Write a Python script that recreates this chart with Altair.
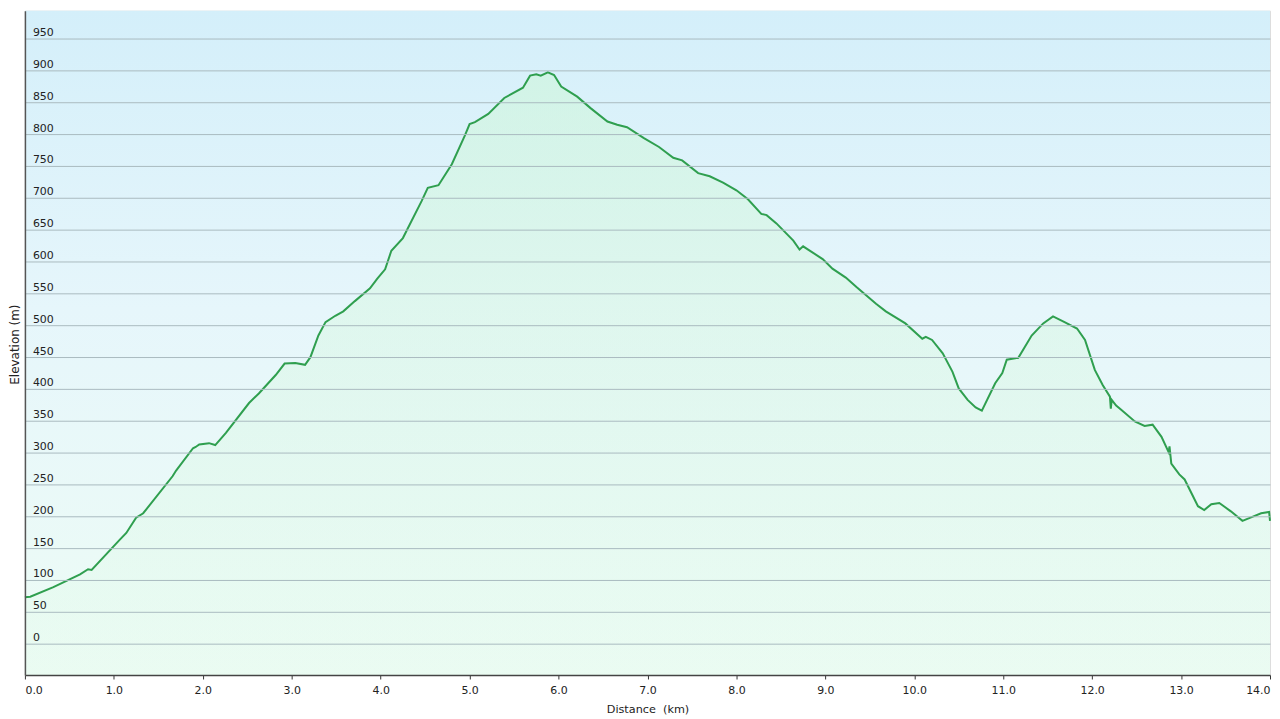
import altair as alt
import pandas as pd

# Elevation profile
dist_km = [0.00, 0.06, 0.32, 0.62, 0.71, 0.75, 1.07, 1.14, 1.25, 1.33, 1.66, 1.70,
           1.89, 1.92, 1.96, 2.07, 2.14, 2.26, 2.52, 2.63, 2.82, 2.92, 3.04, 3.15,
           3.21, 3.30, 3.38, 3.49, 3.58, 3.71, 3.88, 3.96, 4.05, 4.12, 4.25, 4.29,
           4.46, 4.53, 4.65, 4.80, 4.95, 5.00, 5.06, 5.21, 5.39, 5.60, 5.68, 5.75,
           5.80, 5.88, 5.95, 6.03, 6.21, 6.36, 6.55, 6.66, 6.77, 6.96, 7.13, 7.29,
           7.39, 7.57, 7.70, 7.85, 8.00, 8.13, 8.28, 8.34, 8.45, 8.64, 8.71, 8.75,
           8.97, 9.08, 9.23, 9.35, 9.57, 9.68, 9.90, 10.09, 10.13, 10.20, 10.32, 10.43,
           10.50, 10.60, 10.69, 10.76, 10.91, 10.99, 11.04, 11.17, 11.32, 11.45, 11.56, 11.69,
           11.83, 11.92, 12.03, 12.12, 12.20, 12.21, 12.22, 12.27, 12.33, 12.48, 12.59, 12.68,
           12.78, 12.86, 12.87, 12.89, 12.98, 13.04, 13.19, 13.26, 13.34, 13.43, 13.56, 13.69,
           13.78, 13.90, 13.99, 14.00]
elev_m = [72, 73, 88, 108, 116, 115, 163, 173, 197, 204, 262, 271,
          306, 308, 312, 314, 311, 330, 377, 392, 421, 439, 440, 437,
          449, 483, 504, 514, 521, 537, 557, 572, 587, 616, 636, 647,
          694, 715, 719, 752, 798, 815, 818, 831, 856, 872, 891, 893,
          891, 896, 892, 874, 858, 840, 819, 814, 810, 793, 779, 762,
          758, 738, 733, 723, 711, 697, 674, 672, 659, 632, 618, 623,
          603, 588, 574, 559, 533, 521, 502, 478, 481, 476, 455, 426,
          400, 382, 370, 365, 408, 424, 445, 448, 483, 502, 513, 504,
          494, 476, 429, 405, 387, 368, 382, 373, 366, 348, 341, 343,
          324, 300, 309, 282, 265, 257, 215, 209, 218, 220, 207, 192,
          197, 204, 206, 192]

x_ticks = list(range(0, 15))
y_ticks = list(range(0, 951, 50))
X_MIN, X_MAX = 0, 14
Y_MIN, Y_MAX = -50, 993

W = 1251
H = 667.5
FONT = "DejaVu Sans"

df = pd.DataFrame({"dist": dist_km, "elev": elev_m})

x_scale = alt.Scale(domain=[X_MIN, X_MAX], nice=False, zero=False)
y_scale = alt.Scale(domain=[Y_MIN, Y_MAX], nice=False, zero=False)

bg = alt.Chart(pd.DataFrame({"k": [0]})).mark_rect(
    color=alt.Gradient(
        gradient="linear",
        stops=[alt.GradientStop(color="#d4effa", offset=0),
               alt.GradientStop(color="#e6f6fb", offset=0.45),
               alt.GradientStop(color="#edfcf5", offset=1)],
        x1=0, x2=0, y1=0, y2=1),
).encode(
    x=alt.XDatum(X_MIN, scale=x_scale),
    x2=alt.X2Datum(X_MAX),
    y=alt.YDatum(Y_MIN, scale=y_scale),
    y2=alt.Y2Datum(Y_MAX),
)

area = alt.Chart(df).mark_area(
    color=alt.Gradient(
        gradient="linear",
        stops=[alt.GradientStop(color="rgba(205,246,215,0.55)", offset=0),
               alt.GradientStop(color="rgba(225,250,232,0.25)", offset=1)],
        x1=0, x2=0, y1=0, y2=1),
).encode(
    x=alt.X("dist:Q", scale=x_scale),
    y=alt.Y("elev:Q", scale=y_scale),
    y2=alt.Y2Datum(Y_MIN),
)

line = alt.Chart(df).mark_line(color="#2f9f4f", strokeWidth=2).encode(
    x=alt.X("dist:Q", scale=x_scale,
            axis=alt.Axis(values=x_ticks, tickCount=30, format=".1f",
                          title="Distance\u00a0 (km)",
                          grid=False, tickSize=4, tickColor="#333333", tickWidth=1,
                          domainColor="#444444", domainWidth=1.5,
                          labelPadding=5.5, labelFontSize=11, labelColor="#222222",
                          labelFont=FONT, titleFont=FONT, titleFontSize=11.3,
                          titleFontWeight="normal", titleColor="#222222",
                          labelOverlap=False, titleY=28.5, zindex=1)),
    y=alt.Y("elev:Q", scale=y_scale,
            axis=alt.Axis(values=y_ticks, tickCount=40, title="Elevation (m)", grid=True,
                          gridColor="#a9bac0", gridWidth=1, ticks=False, tickSize=0,
                          domainColor="#555555", domainWidth=1.5,
                          labelAlign="left", labelPadding=-7.5,
                          labelBaseline="alphabetic", labelOffset=-2.5,
                          labelOverlap=False,
                          labelFontSize=11, labelColor="#222222", labelFont=FONT,
                          titleFont=FONT, titleFontSize=12, titleFontWeight="normal",
                          titleColor="#222222", titleX=-6.5, titleY=335,
                          titleBaseline="alphabetic", titleAngle=270, zindex=1)),
)

chart = alt.layer(bg, area, line).properties(
    width=W, height=H,
    autosize=alt.AutoSizeParams(type="none"),
    padding={"left": 17, "top": 1, "right": 2, "bottom": 40},
).configure_view(
    stroke="#b4b4b4", strokeWidth=1
).configure(font=FONT)

chart.save("out.html", embed_options={"renderer": "svg", "actions": False})
